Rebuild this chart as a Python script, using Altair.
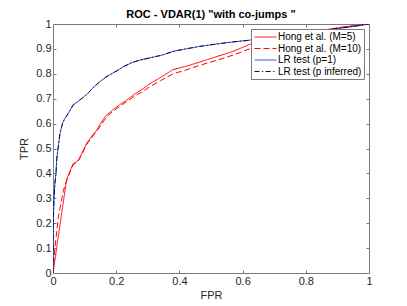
import altair as alt
import pandas as pd

series_names = ["Hong et al. (M=5)", "Hong et al. (M=10)", "LR test (p=1)", "LR test (p inferred)"]

lr1_fpr = [0, 0.001, 0.003, 0.006, 0.0095, 0.012, 0.016, 0.022, 0.03, 0.037, 0.043, 0.05, 0.057, 0.064,
           0.075, 0.085, 0.1, 0.113, 0.127, 0.145, 0.165, 0.185, 0.206, 0.225, 0.25, 0.275, 0.31, 0.345,
           0.38, 0.42, 0.464, 0.52, 0.57, 0.622, 0.68, 0.74, 0.8, 0.86, 0.92, 0.96, 1.0]
lr1_tpr = [0, 0.2, 0.3, 0.36, 0.4, 0.46, 0.5, 0.56, 0.6, 0.62, 0.63, 0.645, 0.66, 0.675,
           0.685, 0.695, 0.71, 0.725, 0.745, 0.765, 0.785, 0.8, 0.815, 0.83, 0.845, 0.855, 0.865, 0.875,
           0.89, 0.9, 0.91, 0.92, 0.928, 0.935, 0.945, 0.955, 0.965, 0.975, 0.985, 0.992, 1.0]

lrp_fpr = [0, 0.001, 0.003, 0.006, 0.0095, 0.012, 0.016, 0.022, 0.03, 0.037, 0.043, 0.05, 0.057, 0.064,
           0.075, 0.085, 0.1, 0.113, 0.127, 0.145, 0.165, 0.185, 0.206, 0.225, 0.25, 0.275, 0.31, 0.345,
           0.38, 0.42, 0.464, 0.52, 0.57, 0.622, 0.68, 0.74, 0.8, 0.86, 0.92, 0.96, 1.0]
lrp_tpr = [0, 0.2, 0.3, 0.36, 0.4, 0.46, 0.5, 0.56, 0.6, 0.62, 0.63, 0.645, 0.66, 0.675,
           0.685, 0.695, 0.71, 0.725, 0.745, 0.765, 0.785, 0.8, 0.815, 0.83, 0.845, 0.855, 0.865, 0.875,
           0.89, 0.9, 0.91, 0.92, 0.928, 0.935, 0.945, 0.955, 0.965, 0.975, 0.985, 0.992, 1.0]

h5_fpr = [0, 0.043, 0.054, 0.064, 0.072, 0.08, 0.093, 0.106, 0.12, 0.138, 0.155, 0.17, 0.19, 0.21,
          0.233, 0.26, 0.285, 0.306, 0.34, 0.38, 0.42, 0.464, 0.52, 0.57, 0.622, 0.68, 0.74, 0.8,
          0.86, 0.92, 0.96, 1.0]
h5_tpr = [0, 0.375, 0.41, 0.44, 0.445, 0.453, 0.485, 0.52, 0.545, 0.573, 0.61, 0.635, 0.656, 0.675,
          0.694, 0.72, 0.74, 0.76, 0.785, 0.817, 0.83, 0.847, 0.87, 0.89, 0.918, 0.935, 0.95, 0.962,
          0.977, 0.988, 0.994, 1.0]

h10_fpr = [0, 0.006, 0.017, 0.033, 0.043, 0.054, 0.064, 0.072, 0.08, 0.093, 0.106, 0.12, 0.138, 0.155,
           0.17, 0.19, 0.21, 0.233, 0.26, 0.285, 0.306, 0.34, 0.38, 0.42, 0.464, 0.52, 0.57, 0.622,
           0.68, 0.74, 0.8, 0.86, 0.92, 0.96, 1.0]
h10_tpr = [0, 0.1, 0.225, 0.332, 0.37, 0.405, 0.435, 0.442, 0.45, 0.48, 0.515, 0.54, 0.568, 0.6,
           0.628, 0.65, 0.668, 0.688, 0.712, 0.73, 0.748, 0.772, 0.8, 0.815, 0.834, 0.855, 0.875, 0.9,
           0.925, 0.945, 0.96, 0.975, 0.988, 0.994, 1.0]

rows = []
for name, fx, fy in [(series_names[0], h5_fpr, h5_tpr), (series_names[1], h10_fpr, h10_tpr),
                     (series_names[2], lr1_fpr, lr1_tpr), (series_names[3], lrp_fpr, lrp_tpr)]:
    for i, (a, b) in enumerate(zip(fx, fy)):
        rows.append({"series": name, "FPR": a, "TPR": b, "i": i})
df = pd.DataFrame(rows)

colors = ["#ff0000", "#ff0000", "#1a3cff", "#111111"]
dashes = [[1, 0], [6, 3], [1, 0], [5, 2.5, 1.2, 2.5]]
widths = [1, 1, 2, 0.8]

xs = alt.Scale(domain=[0, 1], nice=False)
ys = alt.Scale(domain=[0, 1], nice=False)

lines = alt.Chart(df).mark_line(clip=True).encode(
    x=alt.X("FPR:Q", scale=xs, axis=alt.Axis(orient="bottom", values=[0, 0.2, 0.4, 0.6, 0.8, 1],
                                              format="~g", title="FPR")),
    y=alt.Y("TPR:Q", scale=ys, axis=alt.Axis(orient="left", values=[i / 10 for i in range(11)],
                                              format="~g", title="TPR")),
    color=alt.Color("series:N", scale=alt.Scale(domain=series_names, range=colors),
                    legend=alt.Legend(title=None, orient="none", legendX=198, legendY=5,
                                      fillColor="white", strokeColor="#7a7a7a", padding=2,
                                      labelFontSize=10, labelFont="Liberation Sans", labelColor="#000000",
                                      symbolType="M-2,0H2", symbolSize=121, rowPadding=0.5,
                                      labelOffset=6.5, symbolOffset=6.5)),
    strokeDash=alt.StrokeDash("series:N", scale=alt.Scale(domain=series_names, range=dashes)),
    strokeWidth=alt.StrokeWidth("series:N", scale=alt.Scale(domain=series_names, range=widths)),
    order="i:Q",
)

frame = alt.Chart(df).mark_point(opacity=0).encode(
    x=alt.X("FPR:Q", scale=xs, axis=alt.Axis(orient="top", values=[0, 0.2, 0.4, 0.6, 0.8, 1],
                                              labels=False, title=None)),
    y=alt.Y("TPR:Q", scale=ys, axis=alt.Axis(orient="right", values=[i / 10 for i in range(11)],
                                              labels=False, title=None)),
)

chart = alt.layer(lines, frame).resolve_axis(x="independent", y="independent").properties(
    width=316, height=249,
    autosize=alt.AutoSizeParams(type="none"),
    padding={"left": 45, "top": 16, "right": 30, "bottom": 32},
    title=alt.Title('ROC - VDAR(1) "with co-jumps  "', fontSize=11, font="Liberation Sans",
                    fontWeight="bold", color="#000000", offset=3, dy=5),
).configure_view(
    stroke="#7a7a7a", strokeWidth=1
).configure_axis(
    domain=False, grid=False, ticks=True, tickSize=3, offset=-3, tickColor="#7a7a7a",
    labelFont="Liberation Sans", labelFontSize=11, labelColor="#262626", labelPadding=2,
    titleFont="Liberation Sans", titleFontSize=11, titleFontWeight="normal", titleColor="#262626",
    labelFlush=False, labelOverlap=False
).configure_axisBottom(titlePadding=3).configure_axisLeft(titlePadding=6)

chart.save("out.html", embed_options={"renderer": "svg", "actions": False})
